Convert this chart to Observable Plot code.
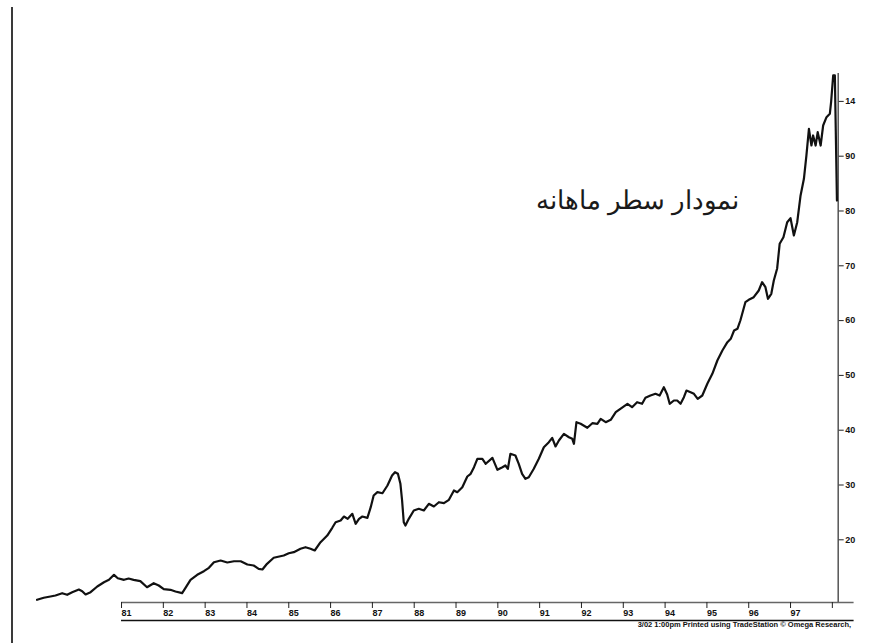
<!DOCTYPE html>
<html>
<head>
<meta charset="utf-8">
<script src="https://cdn.jsdelivr.net/npm/d3@7"></script>
<script src="https://cdn.jsdelivr.net/npm/@observablehq/plot@0.6"></script>
<style>
  html, body { margin: 0; padding: 0; background: #fff; }
  #wrap { position: relative; width: 894px; height: 643px; overflow: hidden; }
  #border { position: absolute; left: 11px; top: 7px; height: 640px; border-left: 2px solid #3a3a3a; }
  svg text { font-family: "Liberation Sans", Arial, sans-serif; }
  g[aria-label="x-axis tick label"] text, g[aria-label="y-axis tick label"] text { font-weight: bold; }
</style>
</head>
<body>
<div id="wrap"><div id="border"></div></div>
<script>
// Monthly closing line, decimal years and index level
const years = [1978.98,1979.14,1979.30,1979.42,1979.58,1979.70,1979.82,1979.98,1980.06,1980.14,
  1980.26,1980.42,1980.58,1980.70,1980.82,1980.91,1981.06,1981.17,1981.29,1981.45,
  1981.61,1981.77,1981.89,1982.01,1982.17,1982.29,1982.45,1982.53,1982.65,1982.81,
  1982.97,1983.09,1983.21,1983.37,1983.53,1983.69,1983.85,1984.01,1984.16,1984.28,
  1984.37,1984.48,1984.64,1984.88,1985.00,1985.12,1985.28,1985.40,1985.52,1985.62,
  1985.76,1985.92,1986.04,1986.12,1986.24,1986.32,1986.41,1986.52,1986.60,1986.68,
  1986.76,1986.88,1986.96,1987.03,1987.12,1987.24,1987.36,1987.47,1987.54,1987.61,
  1987.67,1987.71,1987.75,1987.79,1987.87,1987.99,1988.11,1988.23,1988.35,1988.47,
  1988.59,1988.71,1988.83,1988.95,1989.03,1989.15,1989.27,1989.35,1989.43,1989.51,
  1989.63,1989.71,1989.87,1989.99,1990.11,1990.18,1990.24,1990.30,1990.42,1990.50,
  1990.58,1990.66,1990.74,1990.86,1990.98,1991.10,1991.22,1991.30,1991.38,1991.46,
  1991.58,1991.70,1991.78,1991.82,1991.88,1991.98,1992.14,1992.26,1992.38,1992.46,
  1992.58,1992.70,1992.82,1992.93,1993.10,1993.21,1993.33,1993.45,1993.53,1993.65,
  1993.77,1993.87,1993.97,1994.05,1994.11,1994.21,1994.29,1994.37,1994.45,1994.51,
  1994.61,1994.69,1994.78,1994.89,1995.01,1995.13,1995.25,1995.37,1995.49,1995.57,
  1995.65,1995.73,1995.80,1995.92,1996.00,1996.12,1996.24,1996.32,1996.40,1996.46,
  1996.54,1996.60,1996.68,1996.74,1996.83,1996.92,1997.00,1997.08,1997.16,1997.24,
  1997.32,1997.38,1997.44,1997.50,1997.54,1997.60,1997.65,1997.72,1997.78,1997.86,
  1997.94,1997.97,1998.02,1998.06,1998.11];
const values = [9.05,9.42,9.65,9.84,10.26,9.96,10.44,10.93,10.62,10.02,
  10.44,11.48,12.26,12.70,13.61,12.99,12.70,12.94,12.70,12.45,
  11.35,12.08,11.66,10.99,10.88,10.57,10.26,11.24,12.70,13.61,
  14.27,14.89,15.91,16.22,15.86,16.09,16.09,15.49,15.31,14.71,
  14.58,15.62,16.72,17.14,17.55,17.74,18.36,18.65,18.36,18.05,
  19.56,20.78,22.19,23.21,23.52,24.25,23.83,24.74,22.92,23.83,
  24.25,24.01,25.95,28.08,28.69,28.50,29.91,31.73,32.34,32.04,
  30.22,27.17,23.21,22.61,23.83,25.35,25.66,25.35,26.57,26.08,
  26.86,26.68,27.30,29.00,28.69,29.60,31.55,32.04,33.25,34.78,
  34.78,33.87,34.96,32.77,33.25,33.56,32.96,35.69,35.38,33.87,
  32.04,31.13,31.42,32.96,34.78,36.90,37.81,38.61,37.03,38.12,
  39.34,38.72,38.43,37.52,41.46,41.17,40.44,41.28,41.17,42.08,
  41.46,41.90,43.28,43.91,44.82,44.20,45.11,44.82,45.91,46.33,
  46.64,46.33,47.85,46.52,44.82,45.42,45.42,44.82,46.02,47.24,
  46.93,46.64,45.73,46.33,48.47,50.29,52.72,54.54,56.06,56.68,
  58.19,58.50,60.02,63.36,63.80,64.27,65.49,67.01,66.09,63.98,
  64.89,67.32,69.51,74.01,75.22,77.96,78.69,75.53,77.96,82.83,
  85.88,90.13,95.00,91.95,93.78,91.95,94.38,91.95,95.60,97.12,
  97.74,99.85,104.73,104.73,81.9];

const xTicks = [1981,1982,1983,1984,1985,1986,1987,1988,1989,1990,1991,1992,1993,1994,1995,1996,1997,1998];
const xTickLabels = ["81","82","83","84","85","86","87","88","89","90","91","92","93","94","95","96","97",""];
const yTicks = [20,30,40,50,60,70,80,90,100];
const yTickLabels = ["20","30","40","50","60","70","80","90","14"];
const titleText = "نمودار سطر ماهانه";
const creditText = "3/02 1:00pm Printed using TradeStation © Omega Research,";

const xDomain = [1979, 1998.14];
const yDomain = [8.56, 105.09];
const bandStart = 1981, bandEnd = 1998.52;

const data = years.map((t, i) => ({year: t, value: values[i]}));
const xLab = new Map(xTicks.map((t, i) => [t, xTickLabels[i]]));
const yLab = new Map(yTicks.map((t, i) => [t, yTickLabels[i]]));

const chart = Plot.plot({
  width: 894,
  height: 643,
  marginTop: 73,
  marginBottom: 41,
  marginLeft: 37.4,
  marginRight: 56.3,
  x: {domain: xDomain, axis: null},
  y: {domain: yDomain, axis: null},
  style: {background: "transparent", color: "#111"},
  marks: [
    Plot.ruleX([xDomain[1]], {stroke: "#555", strokeWidth: 1.5}),
    Plot.ruleY([yDomain[0]], {x1: bandStart, x2: bandEnd, stroke: "#666", strokeWidth: 1.3}),
    Plot.ruleY([yDomain[0]], {x1: bandStart, x2: bandEnd, dy: 18, stroke: "#111", strokeWidth: 1.4}),
    Plot.axisX(xTicks, {anchor: "bottom", label: null, tickSize: 6, tickPadding: 1, textAnchor: "start",
      tickFormat: d => xLab.get(d), fontSize: 9, stroke: "#222"}),
    Plot.axisY(yTicks, {anchor: "right", label: null, tickSize: 5, tickPadding: 2,
      tickFormat: d => yLab.get(d), fontSize: 9, stroke: "#222"}),
    Plot.line(data, {x: "year", y: "value", stroke: "#111", strokeWidth: 2.2, strokeLinejoin: "round"}),
    Plot.text([titleText], {text: d => d, frameAnchor: "top-right", dx: -99, dy: 117,
      textAnchor: "end", fontSize: 26, fontFamily: "DejaVu Sans", fill: "#1a1a1a"}),
    Plot.text([creditText], {text: d => d, frameAnchor: "bottom-right", dx: 13, dy: 24,
      textAnchor: "end", fontSize: 7.5, fontWeight: "bold", fill: "#111"})
  ]
});
document.getElementById("wrap").appendChild(chart);
chart.style.position = "absolute";
chart.style.left = "0px";
chart.style.top = "0px";
</script>
</body>
</html>
